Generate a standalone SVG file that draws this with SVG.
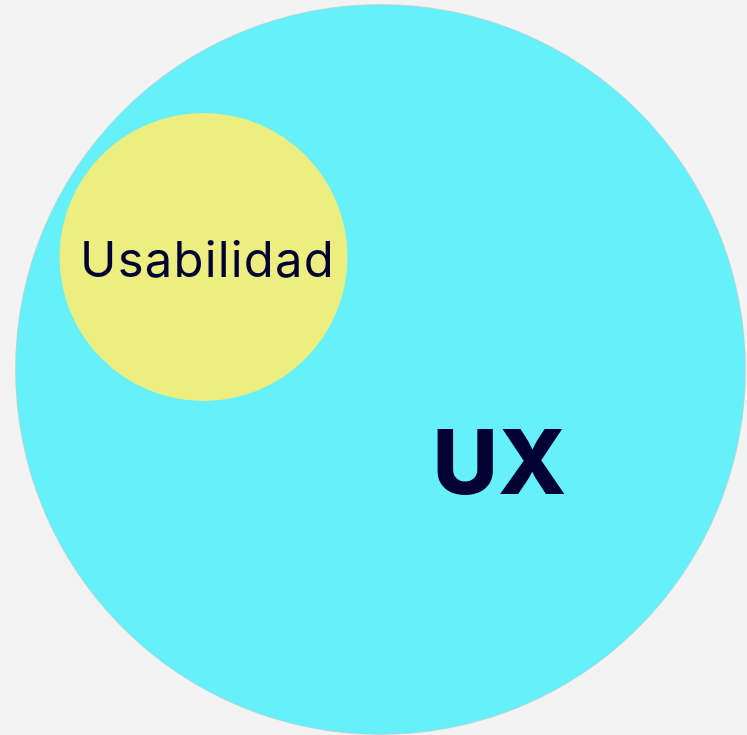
<svg xmlns="http://www.w3.org/2000/svg" width="747" height="735" viewBox="0 0 747 735">
  <style>
    .label { fill: #000033; font-family: Inter, "Noto Sans", "Liberation Sans", sans-serif; }
  </style>
  <rect x="0" y="0" width="747" height="735" fill="#f3f3f3"/>
  <g id="node-ux">
    <circle cx="380.5" cy="369.5" r="365" fill="#66f0f9" stroke="#c8c8c8" stroke-width="0.6"/>
    <text class="label" x="499.5" y="494" text-anchor="middle" font-size="90" font-weight="800">UX</text>
  </g>
  <g id="node-usabilidad">
    <circle cx="203.5" cy="257" r="144" fill="#ecee80"/>
    <text class="label" x="80" y="277" font-size="49" font-weight="400" letter-spacing="1.2">Usabilidad</text>
  </g>
  <g id="connectors"></g>
</svg>
